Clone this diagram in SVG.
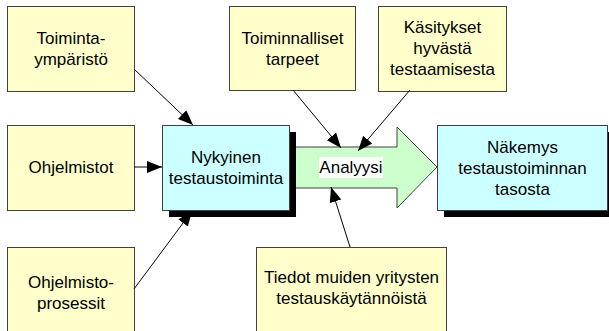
<svg xmlns="http://www.w3.org/2000/svg" width="609" height="331" viewBox="0 0 609 331">
<style>
.y{fill:#FFFFCC;stroke:#404040;stroke-width:1}
.c{fill:#CCFFFF;stroke:#404040;stroke-width:1}
.sh{fill:#000}
text{font-family:"Liberation Sans",Arial,sans-serif;font-size:17px;fill:#000;text-anchor:middle}
.ln{stroke:#000;stroke-width:1;fill:none;marker-end:url(#ah)}
</style>
<defs>
<marker id="ah" markerUnits="userSpaceOnUse" markerWidth="16" markerHeight="14" refX="15" refY="7" orient="auto">
<path d="M0,1 L15,7 L0,13 Z" fill="#000"/>
</marker>
</defs>
<rect width="609" height="331" fill="#fff"/>
<g id="analyysi">
<polygon points="289,147 397,147 397,127 437,167 397,208 397,188 289,188" fill="#CCFFCC" stroke="#404040" stroke-width="1"/>
<rect x="319" y="157" width="64" height="21" fill="#fff"/>
<text x="351" y="173">Analyysi</text>
</g>
<g id="toimintaymparisto">
<rect class="y" x="7.5" y="6.5" width="127" height="85"/>
<text x="71" y="44">Toiminta-</text>
<text x="71" y="65">ympäristö</text>
</g>
<g id="toiminnalliset">
<rect class="y" x="229.5" y="6.5" width="126" height="84"/>
<text x="292.5" y="43.5">Toiminnalliset</text>
<text x="292.5" y="64.5">tarpeet</text>
</g>
<g id="kasitykset">
<rect class="y" x="378.5" y="6.5" width="128" height="85"/>
<text x="442.5" y="33">Käsitykset</text>
<text x="442.5" y="54">hyvästä</text>
<text x="442.5" y="75">testaamisesta</text>
</g>
<g id="ohjelmistot">
<rect class="y" x="7.5" y="125.5" width="127" height="85"/>
<text x="71" y="173">Ohjelmistot</text>
</g>
<g id="nykyinen">
<rect class="sh" x="169" y="132" width="127" height="85"/>
<rect class="c" x="162.5" y="125.5" width="127" height="85"/>
<text x="226" y="163">Nykyinen</text>
<text x="226" y="184">testaustoiminta</text>
</g>
<g id="nakemys">
<rect class="sh" x="444" y="132" width="170" height="85"/>
<rect class="c" x="437.5" y="125.5" width="170" height="85"/>
<text x="522.5" y="153">Näkemys</text>
<text x="522.5" y="174">testaustoiminnan</text>
<text x="522.5" y="195">tasosta</text>
</g>
<g id="ohjelmistoprosessit">
<rect class="y" x="7.5" y="247.5" width="127" height="95"/>
<text x="71" y="288">Ohjelmisto-</text>
<text x="71" y="309">prosessit</text>
</g>
<g id="tiedot">
<rect class="y" x="256.5" y="247.5" width="190" height="95"/>
<text x="351.5" y="283">Tiedot muiden yritysten</text>
<text x="351.5" y="304">testauskäytännöistä</text>
</g>
<g id="connectors">
<line class="ln" x1="134" y1="69" x2="193" y2="125"/>
<line class="ln" x1="134" y1="167" x2="162" y2="167"/>
<line class="ln" x1="134" y1="289" x2="192" y2="211"/>
<line class="ln" x1="293" y1="90" x2="341" y2="148"/>
<line class="ln" x1="410" y1="90" x2="358" y2="151"/>
<line class="ln" x1="350" y1="247" x2="331" y2="187"/>
</g>
</svg>
